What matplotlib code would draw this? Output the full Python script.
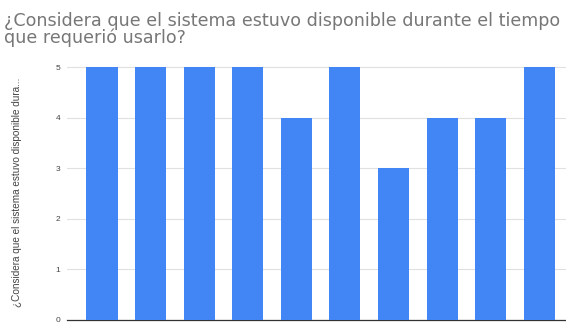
import matplotlib
matplotlib.use("Agg")
import matplotlib.pyplot as plt

categories = [str(i) for i in range(1, 11)]
values = [5, 5, 5, 5, 4, 5, 3, 4, 4, 5]
yticks = [0, 1, 2, 3, 4, 5]
title = "¿Considera que el sistema estuvo disponible durante el tiempo\nque requerió usarlo?"
ylabel = "¿Considera que el sistema estuvo disponible dura..."

plt.rcParams['font.family'] = ['Liberation Sans', 'DejaVu Sans']

W, H = 566, 326
fig = plt.figure(figsize=(W / 100, H / 100), dpi=100)
left, right, top, bottom = 67, 566, 62, 320
ax = fig.add_axes([left / W, (H - bottom) / H, (right - left) / W, (bottom - top) / H])

x = list(range(len(values)))
ax.bar(x, values, width=0.64, color="#4285f4", zorder=3)
ax.set_xlim(-0.72, 9.55)
ax.set_ylim(0, 5.1)
ax.set_yticks(yticks)
ax.set_yticklabels([str(t) for t in yticks], fontsize=6, color="#444444")
ax.set_xticks([])
ax.tick_params(axis='y', length=0, pad=5)
ax.grid(axis='y', color="#e0e0e0", linewidth=0.8, zorder=0)
for s in ['top', 'right', 'left']:
    ax.spines[s].set_visible(False)
ax.spines['bottom'].set_color("#333333")
ax.spines['bottom'].set_linewidth(0.9)

fig.text(4 / W, 1 - 12 / H, title, fontsize=12.6, color="#777777", va="top", ha="left",
         linespacing=0.88, family=['DejaVu Sans'])
fig.text(17 / W, 1 - 192 / H, ylabel, fontsize=7.2, color="#444444", rotation=90,
         va="center", ha="center")

fig.savefig("out.png", dpi=100)
